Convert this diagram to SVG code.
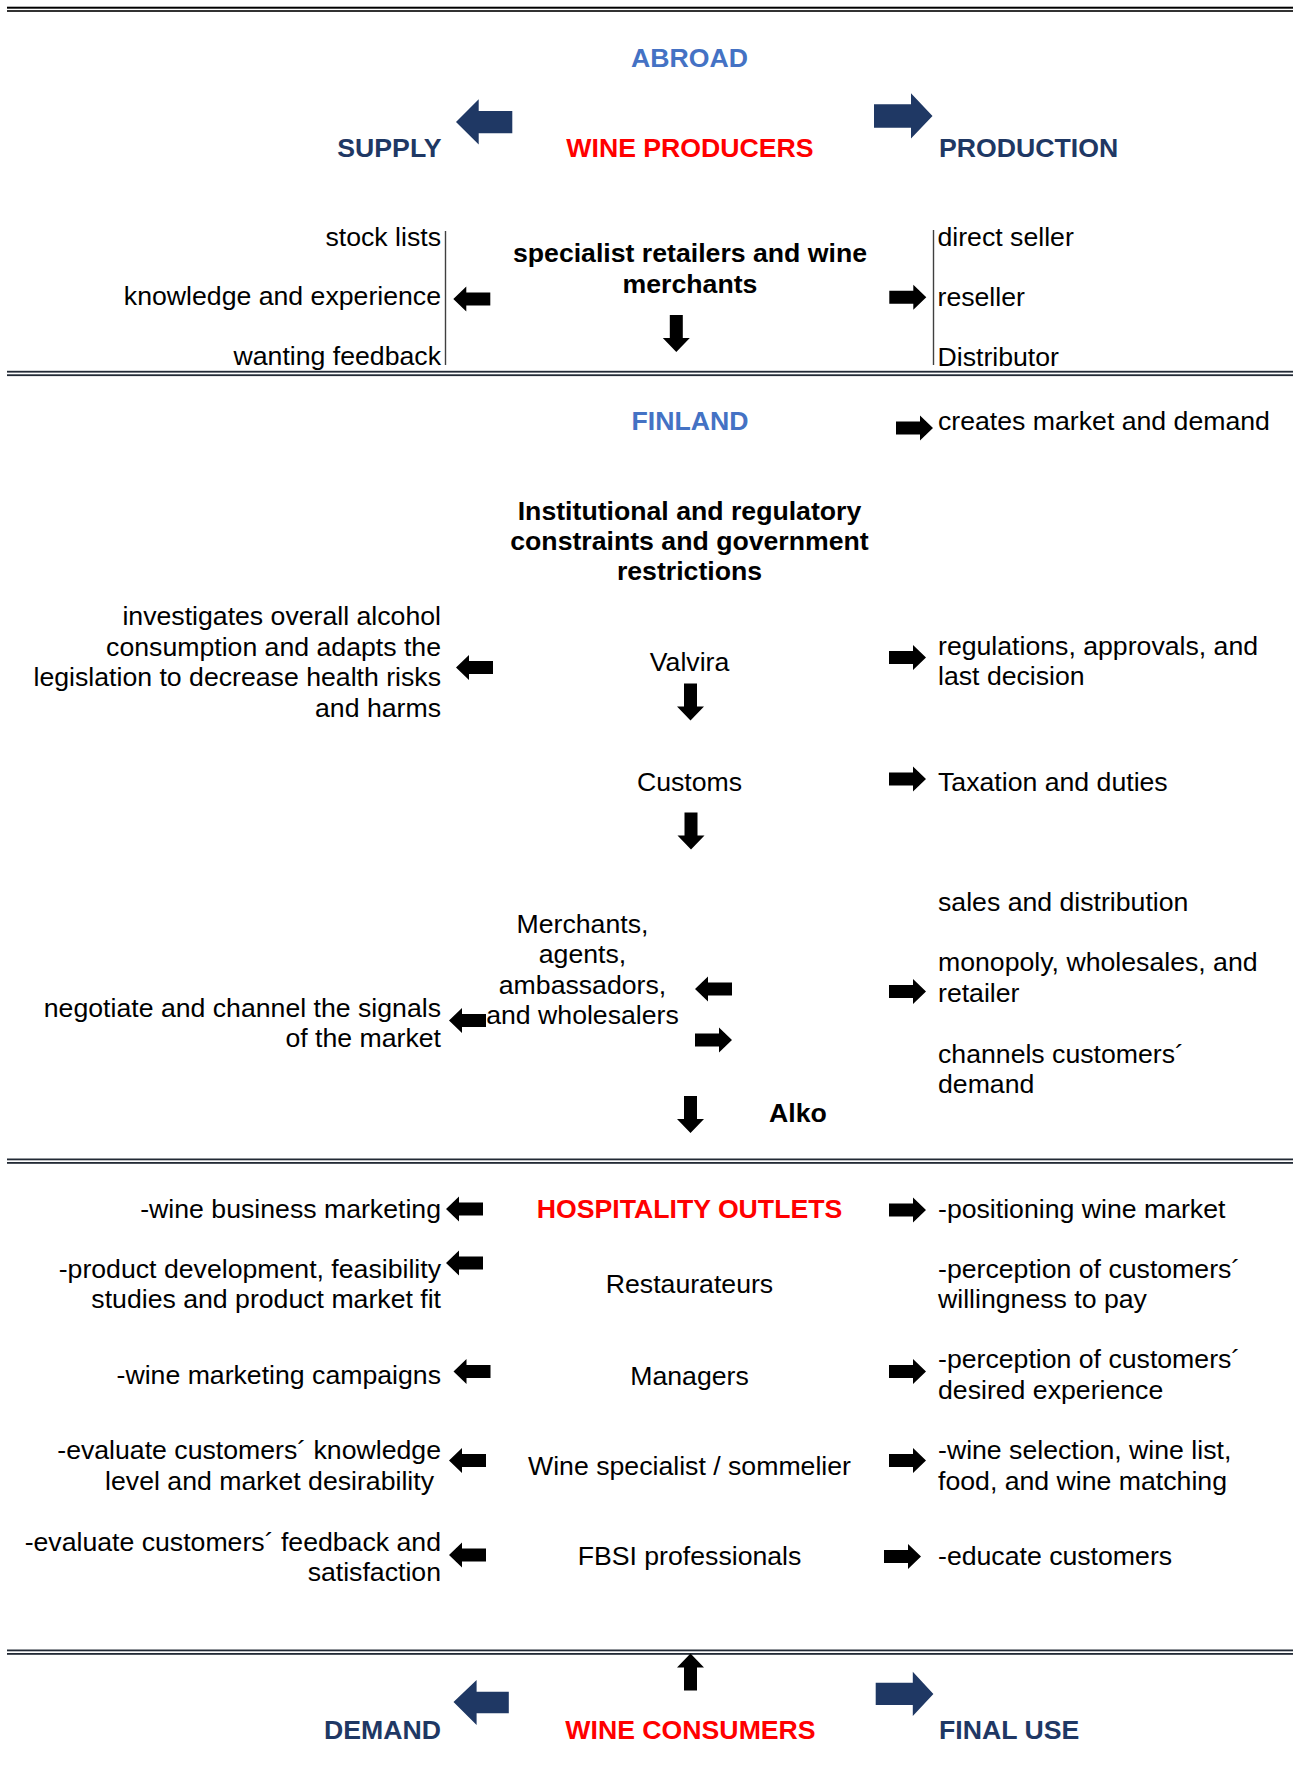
<svg xmlns="http://www.w3.org/2000/svg" xmlns:xlink="http://www.w3.org/1999/xlink" width="1293" height="1766" viewBox="0 0 1293 1766">
<style>
text{font-family:"Liberation Sans",Arial,sans-serif;font-size:26.67px;fill:#000}
.b{font-weight:bold}
.c{text-anchor:middle}
.e{text-anchor:end}
.blue{fill:#4472C4;font-weight:bold}
.navy{fill:#1F3864;font-weight:bold}
.red{fill:#FF0000;font-weight:bold}
.blk{fill:#000}
.nv{fill:#1F3864}
.sep{fill:#222A35}
</style>
<defs>
<path id="ar" d="M0,-6.5 H24 V-12.5 L37,0 L24,12.5 V6.5 H0 Z"/>
<path id="al" d="M37,-6.5 H13 V-12.5 L0,0 L13,12.5 V6.5 H37 Z"/>
<path id="ad" d="M-6.5,0 H6.5 V23 H13.5 L0,37 L-13.5,23 H-6.5 Z"/>
<path id="au" d="M-6.5,37 H6.5 V14 H13.5 L0,0 L-13.5,14 H-6.5 Z"/>
</defs>

<g id="separators">
<rect x="7" y="6.7" width="1286" height="2" fill="#000"/>
<rect x="7" y="10.2" width="1286" height="1.6" fill="#000"/>
<rect class="sep" x="7" y="370.8" width="1286" height="1.8"/>
<rect class="sep" x="7" y="374.3" width="1286" height="1.8"/>
<rect class="sep" x="7" y="1158.5" width="1286" height="1.8"/>
<rect class="sep" x="7" y="1162" width="1286" height="1.8"/>
<rect class="sep" x="7" y="1649.5" width="1286" height="1.8"/>
<rect class="sep" x="7" y="1653" width="1286" height="1.8"/>
</g>

<g id="abroad">
<text class="blue c" x="689.5" y="66.5">ABROAD</text>
</g>
<g id="supply"><text class="navy e" x="441.5" y="157">SUPPLY</text></g>
<g id="wine-producers"><text class="red c" x="690" y="157">WINE PRODUCERS</text></g>
<g id="production"><text class="navy" x="939" y="157">PRODUCTION</text></g>

<g id="supply-list">
<text class="e" x="441" y="246">stock lists</text>
<text class="e" x="441" y="305">knowledge and experience</text>
<text class="e" x="441" y="365">wanting feedback</text>
<rect x="444.8" y="231" width="1.4" height="134" fill="#404040"/>
</g>
<g id="specialist">
<text class="b c" x="690" y="262">specialist retailers and wine</text>
<text class="b c" x="690" y="293">merchants</text>
</g>
<g id="production-list">
<rect x="932.8" y="230" width="1.4" height="135" fill="#404040"/>
<text x="937.5" y="246">direct seller</text>
<text x="937.5" y="306">reseller</text>
<text x="937.5" y="366">Distributor</text>
</g>

<g id="finland"><text class="blue c" x="690" y="430">FINLAND</text></g>
<g id="creates"><text x="938" y="430">creates market and demand</text></g>

<g id="institutional">
<text class="b c" x="689.5" y="520">Institutional and regulatory</text>
<text class="b c" x="689.5" y="550">constraints and government</text>
<text class="b c" x="689.5" y="580">restrictions</text>
</g>
<g id="investigates">
<text class="e" x="441" y="625">investigates overall alcohol</text>
<text class="e" x="441" y="655.5">consumption and adapts the</text>
<text class="e" x="441" y="686">legislation to decrease health risks</text>
<text class="e" x="441" y="716.5">and harms</text>
</g>
<g id="valvira"><text class="c" x="689.5" y="671">Valvira</text></g>
<g id="regulations">
<text x="938" y="654.5">regulations, approvals, and</text>
<text x="938" y="685">last decision</text>
</g>
<g id="customs"><text class="c" x="689.5" y="791">Customs</text></g>
<g id="taxation"><text x="938" y="791">Taxation and duties</text></g>

<g id="sales">
<text x="938" y="911">sales and distribution</text>
<text x="938" y="971">monopoly, wholesales, and</text>
<text x="938" y="1001.5">retailer</text>
<text x="938" y="1062.5">channels customers´</text>
<text x="938" y="1093">demand</text>
</g>
<g id="merchants">
<text class="c" x="582.5" y="933">Merchants,</text>
<text class="c" x="582.5" y="963">agents,</text>
<text class="c" x="582.5" y="993.5">ambassadors,</text>
<text class="c" x="582.5" y="1024">and wholesalers</text>
</g>
<g id="negotiate">
<text class="e" x="441" y="1016.5">negotiate and channel the signals</text>
<text class="e" x="441" y="1047">of the market</text>
</g>
<g id="alko"><text class="b" x="769" y="1122">Alko</text></g>

<g id="hospitality"><text class="red c" x="689.5" y="1218">HOSPITALITY OUTLETS</text></g>
<g id="left-roles">
<text class="e" x="441" y="1218">-wine business marketing</text>
<text class="e" x="441" y="1278">-product development, feasibility</text>
<text class="e" x="441" y="1308">studies and product market fit</text>
<text class="e" x="441" y="1383.5">-wine marketing campaigns</text>
<text class="e" x="441" y="1459">-evaluate customers´ knowledge</text>
<text class="e" x="434" y="1489.5">level and market desirability</text>
<text class="e" x="441" y="1550.5">-evaluate customers´ feedback and</text>
<text class="e" x="441" y="1580.5">satisfaction</text>
</g>
<g id="restaurateurs"><text class="c" x="689.5" y="1293">Restaurateurs</text></g>
<g id="managers"><text class="c" x="689.5" y="1384.5">Managers</text></g>
<g id="sommelier"><text class="c" x="689.5" y="1474.5">Wine specialist / sommelier</text></g>
<g id="fbsi"><text class="c" x="689.5" y="1565">FBSI professionals</text></g>
<g id="right-roles">
<text x="938" y="1218">-positioning wine market</text>
<text x="938" y="1278">-perception of customers´</text>
<text x="938" y="1308">willingness to pay</text>
<text x="938" y="1368">-perception of customers´</text>
<text x="938" y="1398.5">desired experience</text>
<text x="938" y="1459">-wine selection, wine list,</text>
<text x="938" y="1489.5">food, and wine matching</text>
<text x="938" y="1565">-educate customers</text>
</g>

<g id="demand"><text class="navy e" x="441" y="1739">DEMAND</text></g>
<g id="wine-consumers"><text class="red c" x="690.5" y="1739">WINE CONSUMERS</text></g>
<g id="final-use"><text class="navy" x="939" y="1739">FINAL USE</text></g>

<g id="connectors">
<path class="nv" d="M456,122 L478.7,99.3 V111 H512.3 V133.3 H478.7 V144.5 Z"/>
<path class="nv" d="M874,104.3 H911 V93.3 L932.5,116 L911,138.5 V127.7 H874 Z"/>
<path class="nv" d="M453.5,1702 L476.6,1680 V1691.7 H508.8 V1713.3 H476.6 V1725 Z"/>
<path class="nv" d="M875.7,1682.7 H912.8 V1671.7 L933.4,1694 L912.8,1716 V1705 H875.7 Z"/>
<g class="blk">
<use href="#al" x="453.3" y="299"/>
<use href="#ar" x="889.3" y="297.3"/>
<use href="#ar" x="896" y="428"/>
<use href="#al" x="456" y="667.5"/>
<use href="#ar" x="889" y="657.5"/>
<use href="#ar" x="889" y="779"/>
<use href="#al" x="449" y="1020.5"/>
<use href="#al" x="695" y="989"/>
<use href="#ar" x="695" y="1040"/>
<use href="#ar" x="889" y="991.5"/>
<use href="#al" x="446" y="1209"/>
<use href="#ar" x="889" y="1210"/>
<use href="#al" x="446" y="1263"/>
<use href="#al" x="453.5" y="1371.5"/>
<use href="#ar" x="889" y="1371.5"/>
<use href="#al" x="449" y="1460.5"/>
<use href="#ar" x="889" y="1460.5"/>
<use href="#al" x="449" y="1555"/>
<use href="#ar" x="884" y="1556.5"/>
<use href="#ad" x="676.3" y="315"/>
<use href="#ad" x="690.5" y="683.5"/>
<use href="#ad" x="691" y="812.5"/>
<use href="#ad" x="690.5" y="1096"/>
<use href="#au" x="690.5" y="1653.5"/>
</g>
</g>
</svg>
